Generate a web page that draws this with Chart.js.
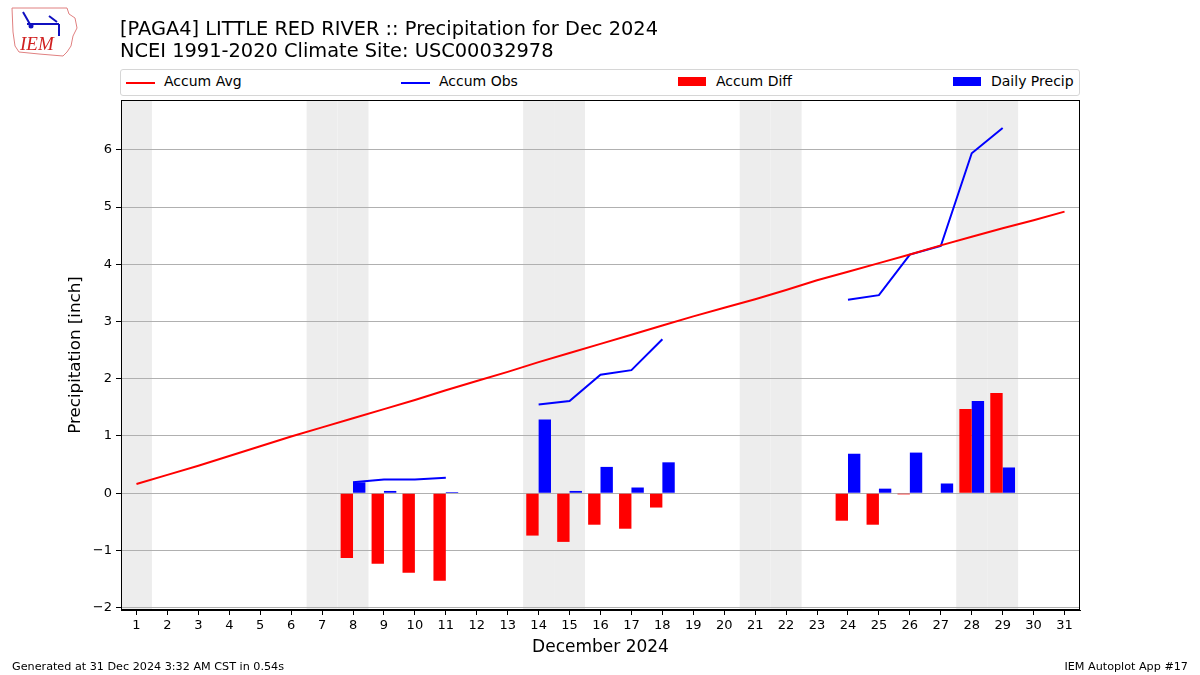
<!DOCTYPE html>
<html>
<head>
<meta charset="utf-8">
<script src="https://cdn.jsdelivr.net/npm/chart.js@4.4.1/dist/chart.umd.min.js"></script>
<style>
  body { margin: 0; background: #fff; font-family: "DejaVu Sans", sans-serif; }
  #wrap { position: relative; width: 1200px; height: 675px; overflow: hidden; }
  #c { position: absolute; left: 0; top: 0; }
  .title { position: absolute; left: 120px; font-size: 19.4px; color: #000; white-space: nowrap; }
  .legend { position: absolute; left: 120px; top: 69px; width: 958px; height: 25px; border: 1px solid #d6d6d6; border-radius: 3px; font-size: 14px; background: #fff; }
  .item { position: absolute; top: 3px; white-space: nowrap; }
  .line { position: absolute; top: 9px; width: 29px; height: 2px; }
  .patch { position: absolute; top: 4px; width: 28px; height: 9px; }
  .item span { position: absolute; top: 0; left: 38px; }
  .foot { position: absolute; top: 660px; font-size: 11.2px; white-space: nowrap; }
  #logo { position: absolute; left: 9px; top: 6px; width: 70px; height: 52px; }
</style>
</head>
<body>
<div id="wrap">
  <canvas id="c" width="1200" height="675"></canvas>
  <svg id="logo" viewBox="0 0 70 52">
    <path d="M3 2 L58 2 L60 8 L66 12 L68 22 L64 30 L62 40 L58 46 L54 50 L30 48 L10 46 L6 40 L4 26 Z" fill="none" stroke="#e08080" stroke-width="1"/>
    <path d="M14 6 L22 20 M18 18 L50 18 M40 10 L48 16 M50 18 L50 30" stroke="#1010c0" stroke-width="2" fill="none"/>
    <circle cx="22" cy="20" r="2.5" fill="#1010c0"/>
    <text x="11" y="44" font-family="Liberation Serif, serif" font-style="italic" font-size="19" fill="#d02020">IEM</text>
  </svg>
  <div class="title" style="top:17px">[PAGA4] LITTLE RED RIVER :: Precipitation for Dec 2024</div>
  <div class="title" style="top:39px">NCEI 1991-2020 Climate Site: USC00032978</div>
  <div class="legend">
    <div class="item" style="left:5px"><div class="line" style="background:#ff0000"></div><span>Accum Avg</span></div>
    <div class="item" style="left:280px"><div class="line" style="background:#0000ff"></div><span>Accum Obs</span></div>
    <div class="item" style="left:557px"><div class="patch" style="background:#ff0000"></div><span>Accum Diff</span></div>
    <div class="item" style="left:832px"><div class="patch" style="background:#0000ff"></div><span>Daily Precip</span></div>
  </div>
  <div class="foot" style="left:12px">Generated at 31 Dec 2024 3:32 AM CST in 0.54s</div>
  <div class="foot" style="right:12px">IEM Autoplot App #17</div>
</div>
<script>
// days of December 2024
var days = ["1","2","3","4","5","6","7","8","9","10","11","12","13","14","15","16","17","18","19","20","21","22","23","24","25","26","27","28","29","30","31"];

// climatological accumulated precipitation
var accumAvg = [0.16, 0.32, 0.48, 0.65, 0.82, 0.99, 1.15, 1.31, 1.47, 1.63, 1.80, 1.96, 2.12, 2.29, 2.45, 2.61,
  2.77, 2.93, 3.09, 3.24, 3.39, 3.55, 3.72, 3.87, 4.02, 4.17, 4.33, 4.48, 4.63, 4.77, 4.92];

// observed accumulated precipitation (gaps = missing)
var accumObs = [null, null, null, null, null, null, null, 0.19, 0.24, 0.24, 0.27, null, null, 1.55, 1.61, 2.07,
  2.15, 2.69, null, null, null, null, null, 3.38, 3.46, 4.17, 4.32, 5.94, 6.38, null, null];

// obs minus avg
var accumDiff = [null, null, null, null, null, null, null, -1.13, -1.23, -1.39, -1.53, null, null, -0.74, -0.85, -0.55,
  -0.62, -0.25, null, null, null, null, null, -0.48, -0.55, -0.02, 0.0, 1.47, 1.75, null, null];

// daily precipitation
var dailyPrecip = [null, null, null, null, null, null, null, 0.19, 0.04, 0.0, 0.02, null, null, 1.29, 0.04, 0.46,
  0.10, 0.54, null, null, null, null, null, 0.69, 0.08, 0.71, 0.17, 1.61, 0.45, null, null];

// weekend days get a grey band
var weekendDays = [1, 7, 8, 14, 15, 21, 22, 28, 29];

var yTicks = [-2, -1, 0, 1, 2, 3, 4, 5, 6];

var weekendPlugin = {
  id: 'weekends',
  beforeDraw: function(chart) {
    var ctx = chart.ctx, area = chart.chartArea, x = chart.scales.x;
    var half = (x.getPixelForValue(1) - x.getPixelForValue(0)) / 2;
    ctx.save();
    ctx.fillStyle = '#ededed';
    weekendDays.forEach(function(d) {
      var px = x.getPixelForValue(d - 1);
      ctx.fillRect(px - half, area.top, half * 2, area.bottom - area.top);
    });
    ctx.restore();
  },
  afterDraw: function(chart) {
    var ctx = chart.ctx, a = chart.chartArea;
    ctx.save();
    ctx.strokeStyle = '#000';
    ctx.lineWidth = 1;
    ctx.strokeRect(a.left + 0.5, a.top + 0.5, a.right - a.left - 1, a.bottom - a.top - 1);
    ctx.restore();
  }
};

Chart.defaults.font.family = '"DejaVu Sans", sans-serif';
Chart.defaults.color = '#000';

var ctx = document.getElementById("c").getContext("2d");
var chart = new Chart(ctx, {
  type: 'bar',
  data: {
    labels: days,
    datasets: [
      { type: 'line', label: 'Accum Avg', data: accumAvg, borderColor: '#ff0000', borderWidth: 2,
        pointRadius: 0, tension: 0, spanGaps: false },
      { type: 'line', label: 'Accum Obs', data: accumObs, borderColor: '#0000ff', borderWidth: 2,
        pointRadius: 0, tension: 0, spanGaps: false },
      { label: 'Accum Diff', data: accumDiff, backgroundColor: '#ff0000', categoryPercentage: 0.8, barPercentage: 1.0 },
      { label: 'Daily Precip', data: dailyPrecip, backgroundColor: '#0000ff', categoryPercentage: 0.8, barPercentage: 1.0 }
    ]
  },
  options: {
    responsive: false,
    animation: false,
    layout: { padding: { left: 62, top: 100, right: 120, bottom: 13 } },
    plugins: { legend: { display: false }, tooltip: { enabled: false } },
    scales: {
      x: {
        offset: true,
        grid: { display: true, drawOnChartArea: false, offset: false, tickLength: 5, tickColor: '#000' },
        border: { display: true, color: '#000' },
        ticks: { font: { size: 13 }, maxRotation: 0, autoSkip: false, padding: 3 },
        title: { display: true, text: 'December 2024', font: { size: 17 }, padding: { top: 2 } },
        afterFit: function(s) { s.height = 52; }
      },
      y: {
        min: -2.04,
        max: 6.87,
        afterBuildTicks: function(s) { s.ticks = yTicks.map(function(v) { return { value: v }; }); },
        grid: { color: '#b0b0b0', lineWidth: 1, tickLength: 5, tickColor: '#000' },
        border: { display: true, color: '#000' },
        ticks: { font: { size: 13 }, padding: 4,
          callback: function(v) { return String(v).replace('-', '\u2212'); } },
        title: { display: true, text: 'Precipitation [inch]', font: { size: 16.7 }, padding: { bottom: 4 } },
        afterFit: function(s) { s.width = 59; }
      }
    }
  },
  plugins: [weekendPlugin]
});
</script>
</body>
</html>
